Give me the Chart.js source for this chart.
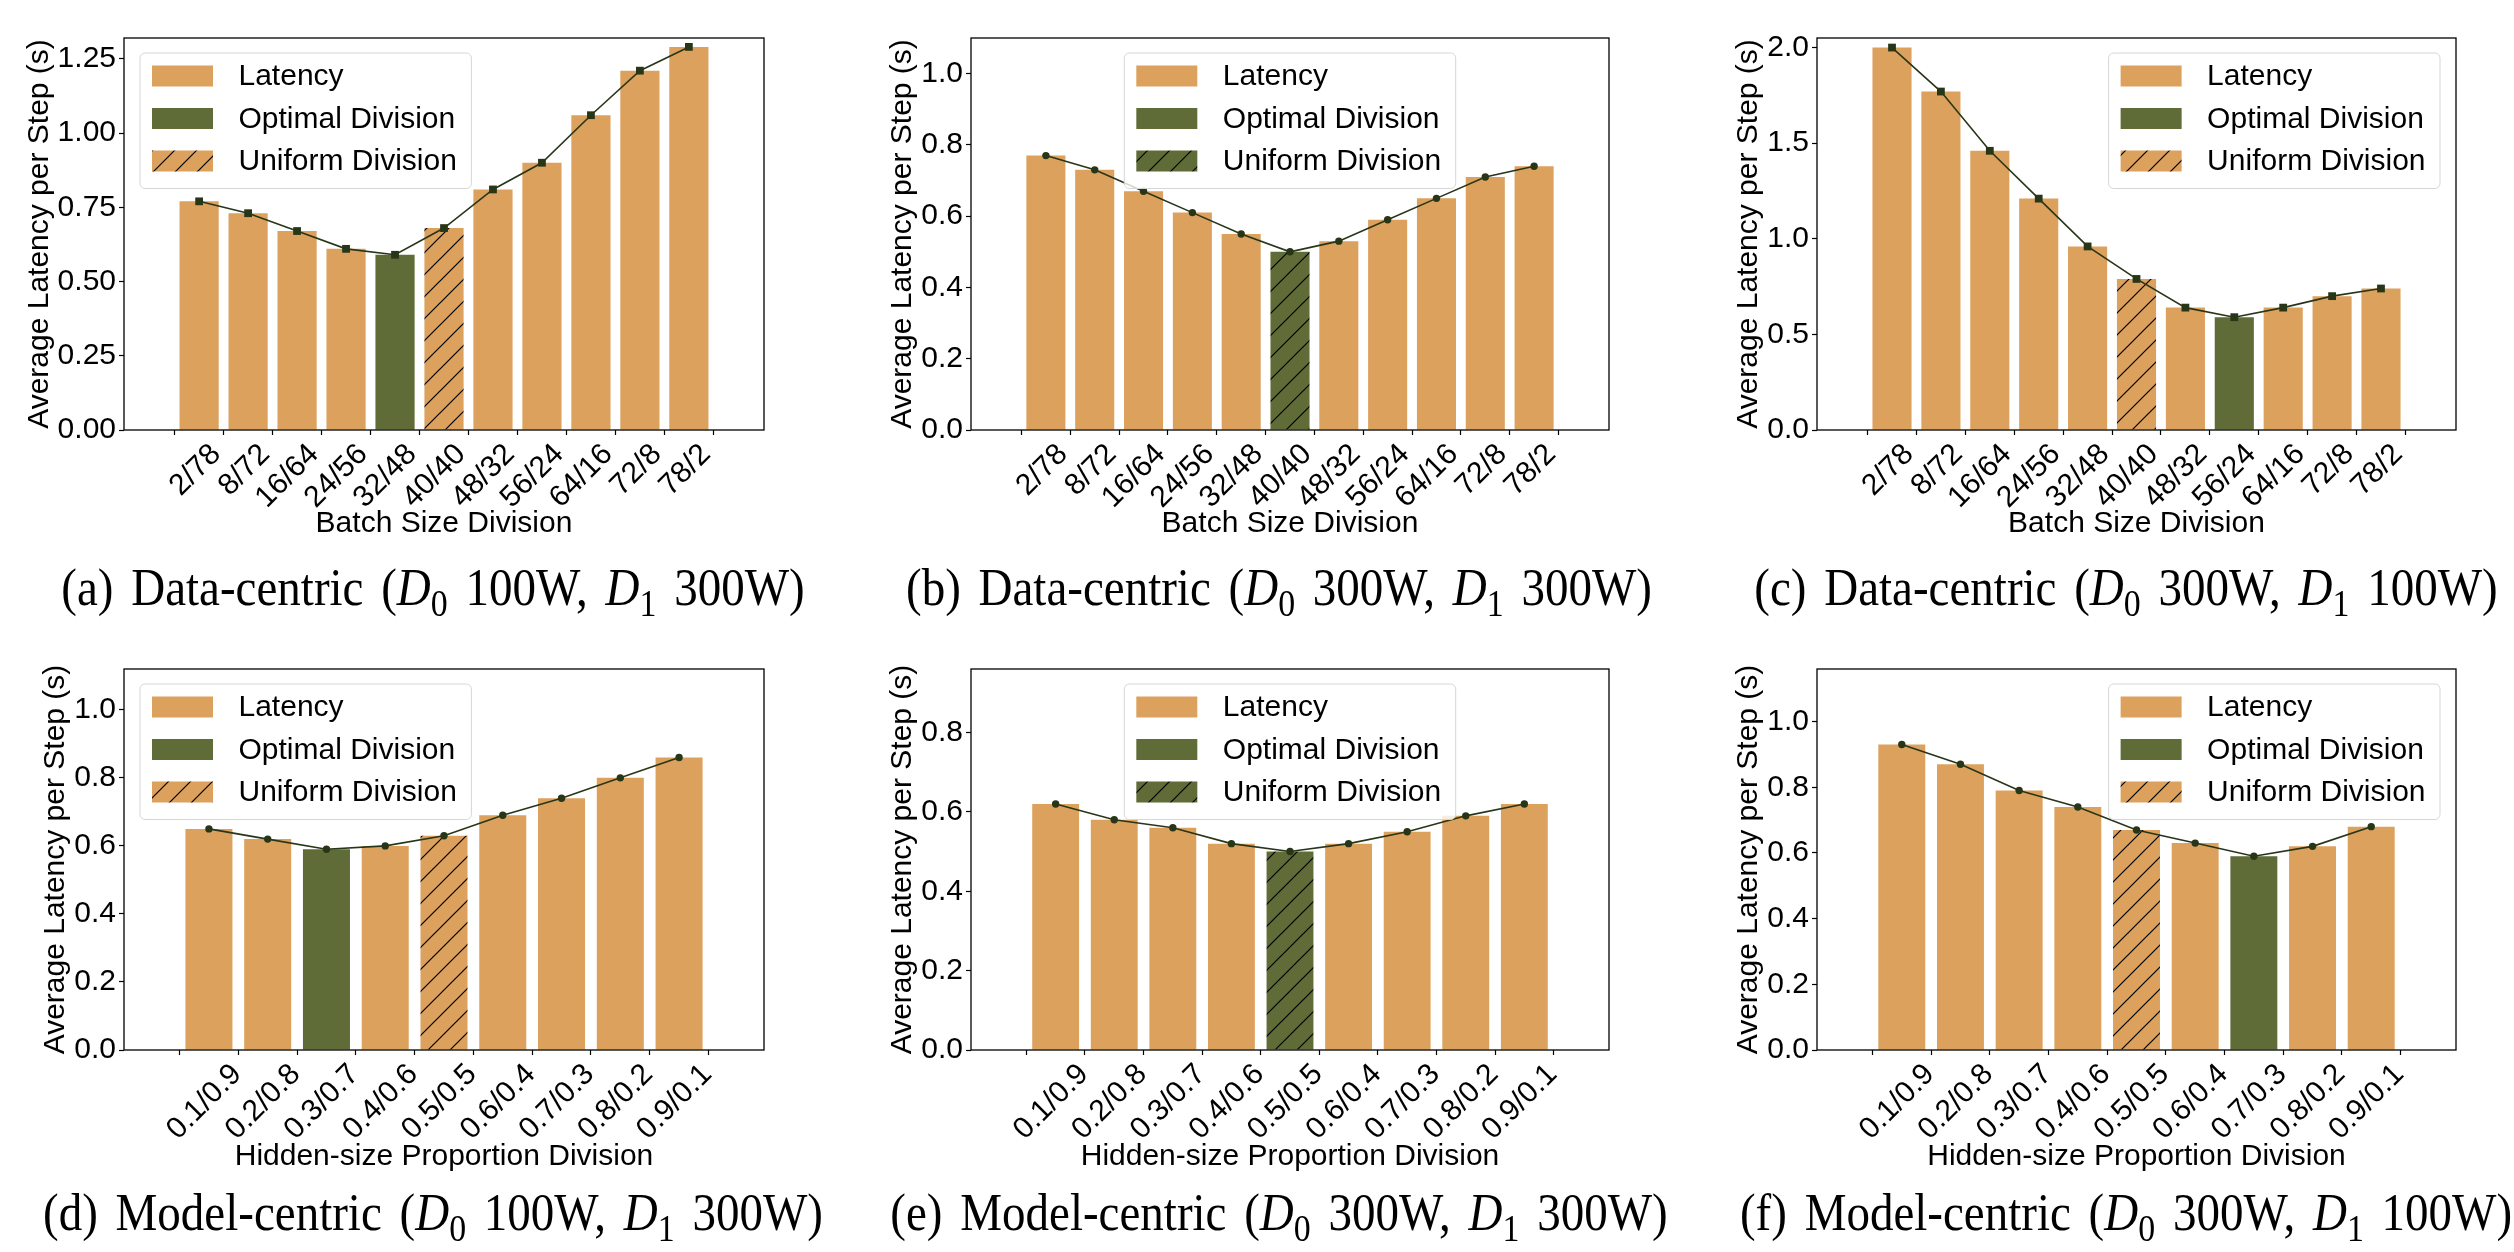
<!DOCTYPE html>
<html>
<head>
<meta charset="utf-8">
<script src="https://cdn.jsdelivr.net/npm/chart.js@4.4.1/dist/chart.umd.min.js"></script>
<style>
  html, body { margin: 0; padding: 0; background: #fff; }
  #page { position: relative; width: 2514px; height: 1252px; overflow: hidden; }
  #page canvas { position: absolute; }
  .caption {
    position: absolute; white-space: nowrap; will-change: transform;
    transform-origin: 50% 39px; transform: translateX(-50%) scaleY(1.12);
    font-family: 'Liberation Serif', 'Times New Roman', serif; font-size: 47px; line-height: 1; color: #000;
    word-spacing: 6px;
  }
  .caption sub { font-size: 0.72em; vertical-align: -0.3em; line-height: 0; }
</style>
</head>
<body>
<div id="page"></div>
<script>
// categories
const batchSplits = ['2/78', '8/72', '16/64', '24/56', '32/48', '40/40', '48/32', '56/24', '64/16', '72/8', '78/2'];
const hiddenSplits = ['0.1/0.9', '0.2/0.8', '0.3/0.7', '0.4/0.6', '0.5/0.5', '0.6/0.4', '0.7/0.3', '0.8/0.2', '0.9/0.1'];

// average latency per step (s)
const latencyA = [0.77, 0.73, 0.67, 0.61, 0.59, 0.68, 0.81, 0.90, 1.06, 1.21, 1.29];
const latencyB = [0.77, 0.73, 0.67, 0.61, 0.55, 0.50, 0.53, 0.59, 0.65, 0.71, 0.74];
const latencyC = [2.00, 1.77, 1.46, 1.21, 0.96, 0.79, 0.64, 0.59, 0.64, 0.70, 0.74];
const latencyD = [0.65, 0.62, 0.59, 0.60, 0.63, 0.69, 0.74, 0.80, 0.86];
const latencyE = [0.62, 0.58, 0.56, 0.52, 0.50, 0.52, 0.55, 0.59, 0.62];
const latencyF = [0.93, 0.87, 0.79, 0.74, 0.67, 0.63, 0.59, 0.62, 0.68];

// index of the optimal / uniform division in each panel
const optimalIdx = [4, 5, 7, 2, 4, 6];
const uniformIdx = [5, 5, 5, 4, 4, 4];

// y tick values
const ticksA = [0, 0.25, 0.5, 0.75, 1.0, 1.25];
const ticksB = [0, 0.2, 0.4, 0.6, 0.8, 1.0];
const ticksC = [0, 0.5, 1.0, 1.5, 2.0];
const ticksD = [0, 0.2, 0.4, 0.6, 0.8, 1.0];
const ticksE = [0, 0.2, 0.4, 0.6, 0.8];
const ticksF = [0, 0.2, 0.4, 0.6, 0.8, 1.0];

const legendNames = ['Latency', 'Optimal Division', 'Uniform Division'];
const yTitle = 'Average Latency per Step (s)';

const ORANGE = '#dda15e';
const GREEN = '#606c38';
const DARK = '#283618';
const FAMILY = "'Liberation Sans', Arial, sans-serif";

Chart.defaults.font.family = FAMILY;
Chart.defaults.font.size = 30;
Chart.defaults.color = '#000';

const panels = [
    { tag: 'a', cats: batchSplits, vals: latencyA, ticks: ticksA, dec: 2, yMax: 1.32, marker: 'rect', legend: 'left',
      L: 124, R: 764, row: 0, yW: 102, xTitle: 'Batch Size Division', cap: ['Data-centric', '100W', '300W'] },
    { tag: 'b', cats: batchSplits, vals: latencyB, ticks: ticksB, dec: 1, yMax: 1.10, marker: 'circle', legend: 'center',
      L: 971, R: 1609, row: 0, yW: 86, xTitle: 'Batch Size Division', cap: ['Data-centric', '300W', '300W'] },
    { tag: 'c', cats: batchSplits, vals: latencyC, ticks: ticksC, dec: 1, yMax: 2.05, marker: 'rect', legend: 'right',
      L: 1817, R: 2456, row: 0, yW: 86, xTitle: 'Batch Size Division', cap: ['Data-centric', '300W', '100W'] },
    { tag: 'd', cats: hiddenSplits, vals: latencyD, ticks: ticksD, dec: 1, yMax: 1.12, marker: 'circle', legend: 'left',
      L: 124, R: 764, row: 1, yW: 86, xTitle: 'Hidden-size Proportion Division', cap: ['Model-centric', '100W', '300W'] },
    { tag: 'e', cats: hiddenSplits, vals: latencyE, ticks: ticksE, dec: 1, yMax: 0.96, marker: 'circle', legend: 'center',
      L: 971, R: 1609, row: 1, yW: 86, xTitle: 'Hidden-size Proportion Division', cap: ['Model-centric', '300W', '300W'] },
    { tag: 'f', cats: hiddenSplits, vals: latencyF, ticks: ticksF, dec: 1, yMax: 1.16, marker: 'circle', legend: 'right',
      L: 1817, R: 2456, row: 1, yW: 86, xTitle: 'Hidden-size Proportion Division', cap: ['Model-centric', '300W', '100W'] }
];

// per row: plot top/bottom, x-axis block height, label shift, caption top
const rows = [
    { T: 29, B: 430, xH: 112, labelOffset: 17, capTop: 566 },
    { T: 660, B: 1050, xH: 125, labelOffset: 28, capTop: 1191 }
];

function hatch(base) {
    const s = 22;
    const c = document.createElement('canvas');
    c.width = s; c.height = s;
    const g = c.getContext('2d');
    g.fillStyle = base;
    g.fillRect(0, 0, s, s);
    g.strokeStyle = '#000';
    g.lineWidth = 1.2;
    g.beginPath();
    g.moveTo(0, s); g.lineTo(s, 0);
    g.moveTo(-s / 2, s / 2); g.lineTo(s / 2, -s / 2);
    g.moveTo(s / 2, s * 1.5); g.lineTo(s * 1.5, s / 2);
    g.stroke();
    return g.createPattern(c, 'repeat');
}

// black box round the plot area
const frame = {
    id: 'frame',
    afterDatasetsDraw(chart) {
        const { ctx, chartArea: a } = chart;
        ctx.save();
        ctx.strokeStyle = '#000';
        ctx.lineWidth = 1.3;
        ctx.strokeRect(a.left, a.top, a.right - a.left, a.bottom - a.top);
        ctx.restore();
    }
};

// matplotlib-like legend inside the axes
const legendBox = {
    id: 'legendBox',
    afterDraw(chart, args, opts) {
        const { ctx, chartArea: a } = chart;
        ctx.save();
        ctx.font = '30px ' + FAMILY;
        const textW = Math.max(...opts.items.map(it => ctx.measureText(it.text).width));
        const w = 98.5 + textW + 14.5;
        const h = 135.5;
        let x = a.left + 16;
        if (opts.at === 'center') x = (a.left + a.right - w) / 2;
        if (opts.at === 'right') x = a.right - 16 - w;
        const y = a.top + 15;
        ctx.beginPath();
        ctx.roundRect(x, y, w, h, 5);
        ctx.fillStyle = 'rgba(255,255,255,0.8)';
        ctx.fill();
        ctx.strokeStyle = '#d6d6d6';
        ctx.lineWidth = 1;
        ctx.stroke();
        opts.items.forEach((it, i) => {
            const cy = y + 23 + i * 42.5;
            ctx.fillStyle = it.fill;
            ctx.fillRect(x + 12, cy - 10.5, 61, 21);
            ctx.fillStyle = '#000';
            ctx.textBaseline = 'middle';
            ctx.fillText(it.text, x + 98.5, cy + 1);
        });
        ctx.restore();
    }
};

const page = document.getElementById('page');

panels.forEach((p, k) => {
    const row = rows[p.row];
    const padT = 12, padR = 24;
    const canvas = document.createElement('canvas');
    canvas.width = p.yW + (p.R - p.L) + padR;
    canvas.height = padT + (row.B - row.T) + row.xH;
    canvas.style.left = (p.L - p.yW) + 'px';
    canvas.style.top = (row.T - padT) + 'px';
    page.appendChild(canvas);

    const opt = optimalIdx[k], uni = uniformIdx[k];
    const uniBase = opt === uni ? GREEN : ORANGE;
    const colors = p.vals.map((v, i) => i === uni ? hatch(uniBase) : (i === opt ? GREEN : ORANGE));
    const pts = p.vals.map((v, i) => ({ x: i, y: v }));
    const n = p.cats.length;
    const margin = 0.05 * (n - 1 + 0.8);

    const tickGrid = { drawOnChartArea: false, drawTicks: true, tickLength: 5, tickColor: '#000', tickWidth: 1.2 };

    new Chart(canvas, {
        type: 'bar',
        data: {
            datasets: [
                {
                    type: 'line', data: pts, order: 0,
                    borderColor: DARK, borderWidth: 1.6, tension: 0,
                    pointStyle: p.marker, pointRadius: p.marker === 'rect' ? 5.5 : 3.7,
                    pointBackgroundColor: DARK, pointBorderColor: DARK, pointBorderWidth: 0
                },
                {
                    type: 'bar', label: legendNames[0], data: pts, order: 1,
                    backgroundColor: colors, borderWidth: 0,
                    categoryPercentage: 1.0, barPercentage: 0.8
                }
            ]
        },
        options: {
            responsive: false,
            animation: false,
            events: [],
            layout: { padding: { top: padT, right: padR, left: 0, bottom: 0 } },
            plugins: {
                legend: { display: false },
                tooltip: { enabled: false },
                legendBox: {
                    at: p.legend,
                    items: [
                        { text: legendNames[0], fill: ORANGE },
                        { text: legendNames[1], fill: GREEN },
                        { text: legendNames[2], fill: hatch(uniBase) }
                    ]
                }
            },
            scales: {
                x: {
                    type: 'linear',
                    min: -0.4 - margin,
                    max: n - 1 + 0.4 + margin,
                    afterBuildTicks: s => { s.ticks = p.cats.map((c, i) => ({ value: i })); },
                    afterFit: s => { s.height = row.xH; },
                    grid: tickGrid,
                    border: { display: false },
                    ticks: {
                        autoSkip: false, minRotation: 45, maxRotation: 45,
                        labelOffset: row.labelOffset, padding: 2,
                        callback: v => p.cats[v]
                    },
                    title: { display: true, text: p.xTitle, padding: 0 }
                },
                y: {
                    min: 0,
                    max: p.yMax,
                    afterBuildTicks: s => { s.ticks = p.ticks.map(v => ({ value: v })); },
                    afterFit: s => { s.width = p.yW; },
                    grid: tickGrid,
                    border: { display: false },
                    ticks: { padding: 3, callback: v => v.toFixed(p.dec) },
                    title: { display: true, text: yTitle, padding: 0 }
                }
            }
        },
        plugins: [frame, legendBox]
    });

    const cap = document.createElement('div');
    cap.className = 'caption';
    cap.style.left = ((p.L + p.R) / 2 - 11) + 'px';
    cap.style.top = row.capTop + 'px';
    cap.innerHTML = '(' + p.tag + ') ' + p.cap[0] + ' (<i>D</i><sub>0</sub> ' + p.cap[1] +
        ', <i>D</i><sub>1</sub> ' + p.cap[2] + ')';
    page.appendChild(cap);
});
</script>
</body>
</html>
